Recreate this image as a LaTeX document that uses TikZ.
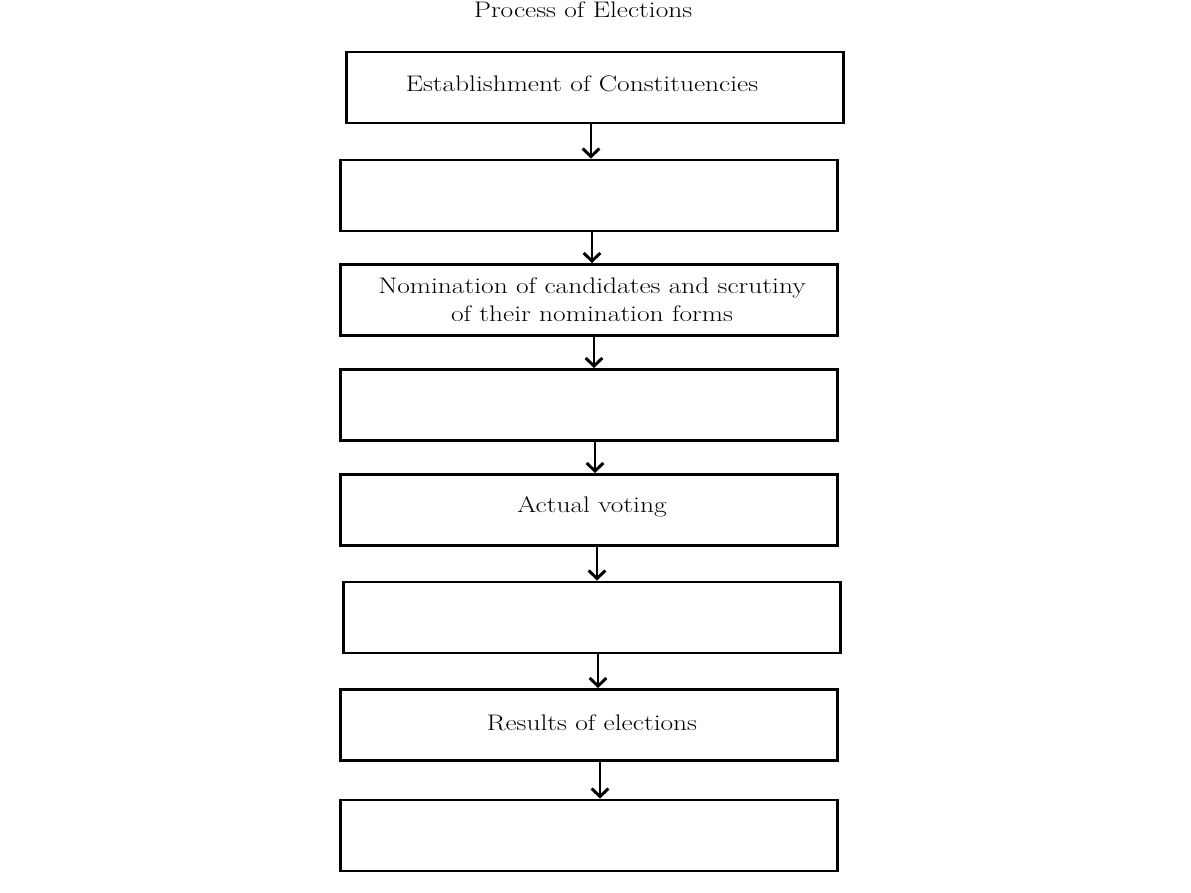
\documentclass[tikz,border=0pt]{standalone}
\usepackage{fontspec}
\setmainfont{Latin Modern Roman}[FakeStretch=1.22]
\usetikzlibrary{arrows.meta}
\begin{document}
\begin{tikzpicture}[x=0.025cm,y=-0.025cm,
   stage/.style={draw,line width=2.1pt,minimum width=12.4cm,minimum height=1.775cm,inner sep=0pt},
   label/.style={font=\fontsize{16}{20}\selectfont,align=center},
   flow/.style={line width=2.1pt,-{Straight Barb[length=0.2cm,width=0.42cm,line width=2.1pt]}}]
   \useasboundingbox (0,0) rectangle (1191,893);
   \node[label] (title) at (583,10) {Process of Elections};
   \node[stage] (b1) at (595,87.5) {};
   \node[stage] (b2) at (589,195.5) {};
   \node[stage] (b3) at (589,300) {};
   \node[stage] (b4) at (589,405) {};
   \node[stage] (b5) at (589,510) {};
   \node[stage] (b6) at (592,617.5) {};
   \node[stage] (b7) at (589,725) {};
   \node[stage] (b8) at (589,835.5) {};
   \node[label] (t1) at (582,84) {Establishment of Constituencies};
   \node[label] (t3) at (592,300) {Nomination of candidates and scrutiny\\of their nomination forms};
   \node[label] (t5) at (592,507) {Actual voting};
   \node[label] (t7) at (592,723) {Results of elections};
   \foreach \a/\b/\x in {b1/b2/591,b2/b3/592,b3/b4/594,b4/b5/595,b5/b6/597,b6/b7/598,b7/b8/600}
      \draw[flow] (\x,0 |- \a.south) -- (\x,0 |- \b.north);
\end{tikzpicture}
\end{document}
